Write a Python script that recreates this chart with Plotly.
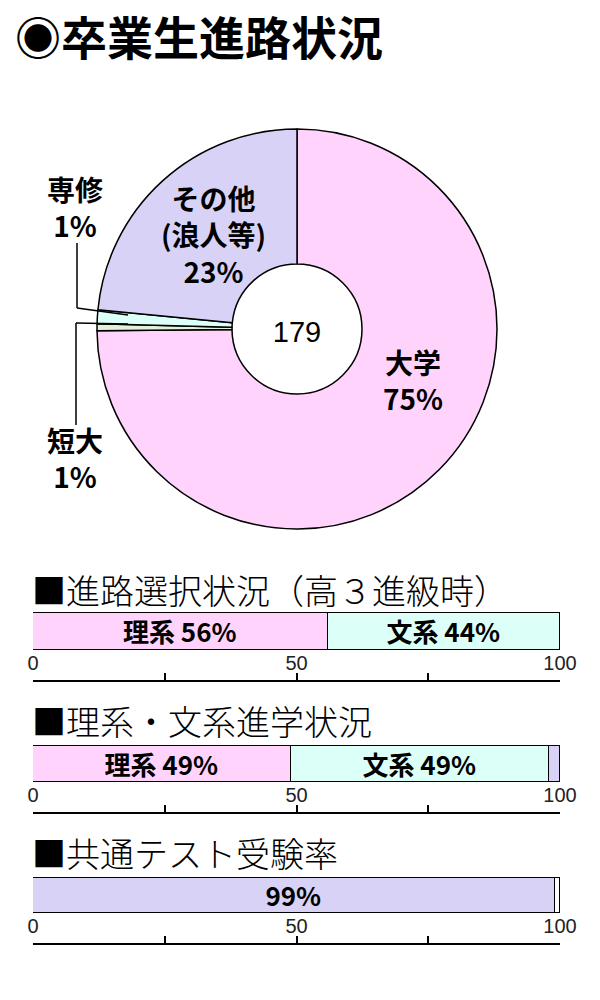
import plotly.graph_objects as go

# 卒業生進路状況 (人数)
total = 179
pie_names = ["大学", "短大", "専修", "その他<br>(浪人等)"]
pie_counts = [134, 1, 2, 42]

# 進路選択状況（高３進級時）
choice_names = ["理系", "文系"]
choice_pct = [56, 44]

# 理系・文系進学状況
entry_names = ["理系", "文系", "その他"]
entry_pct = [49, 49, 2]

# 共通テスト受験率
exam_names = ["受験", "未受験"]
exam_pct = [99, 1]

axis_ticks = [0, 25, 50, 75, 100]
axis_ticktext = ["0", "", "50", "", "100"]

PINK = "#ffd3fb"
GREEN = "#e3f1dc"
CYAN = "#dcfff8"
LAV = "#d8d3f6"
JP = "Noto Sans CJK JP"

W, H = 600, 1000
# the page puts the plot 8px in from the top-left corner
OFF = 8


def px_x(x):
    return (x - OFF) / W


def px_y(y):
    return 1 - (y - OFF) / H


fig = go.Figure()

# donut
fig.add_trace(go.Pie(
    values=pie_counts, labels=pie_names, sort=False, direction="clockwise",
    rotation=0, hole=0.325, textinfo="none", hoverinfo="skip",
    marker=dict(colors=[PINK, GREEN, CYAN, LAV], line=dict(color="black", width=1.5)),
    domain=dict(x=[px_x(97), px_x(497)], y=[px_y(529), px_y(129)]),
    title=dict(text=str(total), position="middle center",
               font=dict(family="Liberation Sans", size=29, color="black")),
    showlegend=False,
))

pct = [round(c / total * 100) for c in pie_counts]
pie_label_pos = [(413, 380), (75, 458), (75, 207), (213, 235)]
annotations = []
for name, p, (lx, ly) in zip(pie_names, pct, pie_label_pos):
    annotations.append(dict(
        x=px_x(lx), y=px_y(ly), xref="paper", yref="paper",
        text=f"{name}<br>{p}%", showarrow=False, xanchor="center", yanchor="middle",
        font=dict(family=JP, size=28, color="black", weight="bold"),
    ))

# leader lines for the small slices
shapes = []
for seg in [((77, 243), (77, 308)), ((77, 308), (128, 315)),
            ((76, 425), (76, 323)), ((76, 323), (128, 324))]:
    (x0, y0), (x1, y1) = seg
    shapes.append(dict(type="line", xref="paper", yref="paper",
                       x0=px_x(x0), y0=px_y(y0), x1=px_x(x1), y1=px_y(y1),
                       line=dict(color="black", width=1.5)))

# main title
annotations.append(dict(
    x=px_x(13), y=px_y(35), xref="paper", yref="paper", text="◉卒業生進路状況",
    showarrow=False, xanchor="left", yanchor="middle",
    font=dict(family=JP, size=46, color="black", weight="bold"),
))

bars = [
    ("■進路選択状況（高３進級時）", choice_names, choice_pct, [PINK, CYAN],
     [f"{n} {p}%" for n, p in zip(choice_names, choice_pct)], 589, 613, 650, 680),
    ("■理系・文系進学状況", entry_names, entry_pct, [PINK, CYAN, LAV],
     [f"{n} {p}%" if p > 5 else "" for n, p in zip(entry_names, entry_pct)], 720, 746, 782, 812),
    ("■共通テスト受験率", exam_names, exam_pct, [LAV, "white"],
     [f"{p}%" if p > 5 else "" for p in exam_pct], 852, 878, 913, 943),
]

for i, (title, names, vals, colors, texts, ty, top, bottom, axis) in enumerate(bars, start=1):
    suffix = "" if i == 1 else str(i)
    for n, v, c, t in zip(names, vals, colors, texts):
        fig.add_trace(go.Bar(
            x=[v], y=[0], width=1, orientation="h", name=n,
            marker=dict(color=c, line=dict(color="black", width=1.5)),
            text=[t], textposition="inside", insidetextanchor="middle", textangle=0,
            textfont=dict(family=JP, size=26, color="black", weight="bold"),
            hoverinfo="skip", showlegend=False,
            xaxis="x" + suffix, yaxis="y" + suffix,
        ))
    bar_h = bottom - top
    pad = 2
    fig.layout["xaxis" + suffix] = dict(
        domain=[px_x(33), px_x(560)], range=[0, 100], anchor="y" + suffix,
        showline=True, linecolor="black", linewidth=1.5,
        ticks="inside", ticklen=7, tickwidth=1.5, tickcolor="black",
        tickvals=axis_ticks, ticktext=axis_ticktext,
        ticklabelposition="inside", ticklabeloverflow="allow",
        tickfont=dict(family="Liberation Sans Narrow, Liberation Sans", size=20, color="#222"),
        showgrid=False, zeroline=False, fixedrange=True, automargin=False,
    )
    fig.layout["yaxis" + suffix] = dict(
        domain=[px_y(axis), px_y(top - pad)],
        range=[0.5 - (axis - top) / bar_h, 0.5 + pad / bar_h],
        visible=False, fixedrange=True, anchor="x" + suffix, automargin=False,
    )
    annotations.append(dict(
        x=px_x(30), y=px_y(ty), xref="paper", yref="paper", text=title,
        showarrow=False, xanchor="left", yanchor="middle",
        font=dict(family=JP, size=34, color="black", weight=300),
    ))

fig.update_layout(
    width=W, height=H, margin=dict(l=0, r=0, t=0, b=0, autoexpand=False),
    paper_bgcolor="white", plot_bgcolor="rgba(0,0,0,0)",
    barmode="stack", bargap=0,
    font=dict(family=JP, color="black"),
    uniformtext=dict(minsize=26, mode="show"),
    annotations=annotations, shapes=shapes,
)

fig.write_html("out.html")
